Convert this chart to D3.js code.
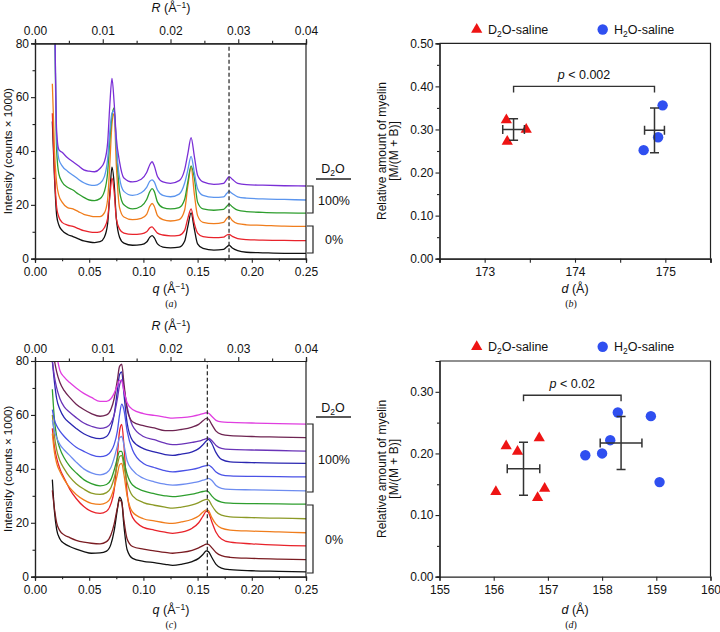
<!DOCTYPE html>
<html><head><meta charset="utf-8">
<script src="https://cdn.jsdelivr.net/npm/d3@7"></script>
<style>body{margin:0;background:#fff} svg{display:block;font-family:"Liberation Sans",Arial,sans-serif}</style>
</head><body><svg id="c" width="720" height="632"></svg>
<script>
// ---------- Panel (a) data ----------
const qA = [0.016,0.018,0.020,0.022,0.025,0.030,0.035,0.040,0.045,0.050,0.055,0.060,0.064,0.067,0.069,0.071,0.073,0.075,0.078,0.082,0.090,0.098,0.103,0.106,0.108,0.110,0.113,0.118,0.125,0.133,0.138,0.141,0.144,0.147,0.150,0.155,0.165,0.174,0.177,0.179,0.182,0.187,0.195,0.210,0.230,0.250];
const aBlack  = [51,30,16,12.5,10.5,9,8.2,7.4,6.6,6.2,6.0,6.3,8,13,24,34,28,15,8,5.8,5,5.2,6.2,8,8.6,7.8,5.5,4.3,4,4.3,6.5,12,17,11,5.5,3.8,3.2,3.5,4.4,5,4,3,2.4,2.2,2.0,2.0];
const aRed    = [54,32,19,15.5,13.5,12.5,12,11.2,10.4,10.0,9.8,10.0,11.5,15,23,30,25,15,11,9.5,9,9.2,10,11.5,11.8,11,9.5,8.8,8.5,8.7,10.5,15,18.5,13,9.5,8.2,7.8,8.0,8.8,9,8.3,7.5,7.1,6.9,6.8,6.7];
const aOrange = [65,40,28,23.5,21,19,18.5,17.5,16.5,16,15.6,15.6,17,22,35,50,54,35,19,15.5,14.5,15,16.5,19.5,20.5,19.5,16,14.5,14,14.5,18,27,34,24,16,13.5,13,13.5,15,15.6,14.2,13,12.6,12.4,12.1,12];
const aGreen  = [null,100,40,31.5,28.5,26.5,25.5,24,22.8,21.8,21.6,22.3,25,32,44,53,56,42,25,20,18.5,19.5,22,25,26,25,21,19,18.5,19,22,28.5,34.5,30,21,18.5,18,18.3,19.5,20.3,19.3,18,17.5,17.2,17,16.9];
const aBlue   = [null,100,45,37,34.5,32.5,31,29.5,28.2,27.4,27.2,28,30.5,37,47,54,55,42,30,25,23.5,24.5,26.5,28.8,29.3,28.5,25.5,23.5,23,24,28,33,38,32,26,23.5,22.8,23,24.3,25,24.2,23,22.5,22.2,22,21.8];
const aPurple = [null,100,47,40.5,39.5,37.5,36,34.5,33,32.5,32.3,33.5,36,43,57,67,58,45,36,30,28.5,29.5,32,35,36,34.5,30.5,28.5,28,29,33,39,45,38,31,28.5,27.6,28,29.5,30.5,29.5,28,27.5,27.3,27.1,27.0];
const aColors = ["#111111","#e8232b","#f07d1c","#2e9e2e","#5b95ee","#7a2fd6"];

// ---------- Panel (c) data ----------
const qC = [0.016,0.018,0.020,0.023,0.027,0.032,0.038,0.045,0.052,0.060,0.066,0.070,0.073,0.076,0.078,0.080,0.082,0.085,0.090,0.100,0.110,0.120,0.127,0.135,0.145,0.151,0.155,0.158,0.160,0.163,0.167,0.172,0.180,0.200,0.225,0.250];
const cBlack   = [36,24,17.5,14,12.3,11.2,10.2,9.3,8.7,8.8,9.5,12,17,25,29.5,28,19,10,6.8,5.7,5.2,4.6,4.2,4.6,5.6,6.8,8.3,9.6,9.3,7.2,4.6,3.2,2.6,2.2,2.0,1.8];
const cMaroon  = [32,25,20,17,15.5,14.5,13.5,12.8,12.4,12.2,13,15.5,19.5,25.5,28.5,27.5,21,14,11.2,10.2,9.6,9.0,8.7,9.0,9.8,10.7,11.5,12.1,12.0,10.8,9.0,7.8,7.2,6.8,6.5,6.3];
const cRed     = [55,48,44,40,36.5,32.5,29,26,24.2,23.5,24.3,27,32,45,54,56.5,49,31,22,18.3,17.3,16.5,16.1,16.5,18,20,22.5,24.2,23.8,20.5,16.5,14,12.8,12.2,11.7,11.4];
const cOrange  = [53,46,42,39,36,33,30.5,28.5,27.2,26.8,27.5,29.5,33,38,41.5,42,38,30,24,21.5,20.7,20,19.8,20.3,21.3,22.5,24,24.8,24.5,22,19.5,18,17.3,16.9,16.6,16.3];
const cOlive   = [60,52,47,43,40,37,34.5,32.5,31,30.5,31.2,33,36.5,41.5,44.5,45,41,35,30,27.5,26.5,25.8,25.4,25.8,26.6,27.5,28.3,28.7,28.5,26.5,24.2,22.8,22.2,21.9,21.7,21.5];
const cGreen   = [69.5,58,52,47.5,44,41,38.5,36,34.5,33.7,34.2,36,39.5,44,46.5,46.5,43,38,34,31.8,30.8,30,29.7,30,30.6,31.2,31.6,31.8,31.5,30,28.5,27.7,27.3,27.1,27,26.9];
const cLtBlue  = [58,54,51.5,49,47,45,42.5,40,38.5,37.8,38.5,40.5,44,48.5,51.5,52,49,43,39.5,36.5,35.2,34.3,34,34.2,34.8,35.3,35.8,36.2,36.5,35.8,33.8,32.8,32.4,32.2,32,31.8];
const cBlue    = [62,58,56,54,52,50,48,46.5,45.2,44.5,45,46.5,49,54,60,64,62,54,47,42,40.5,39.3,38.9,39.2,39.8,40.4,40.9,41.2,41.4,40.6,38.8,37.8,37.4,37.2,37.1,37];
const cNavy    = [80,72,66,62,59,57,55,53,51.8,51.2,52,55,60,69,75,76,68,57,50.5,47.5,46.3,45.3,45,45.5,46.3,47.5,49,50.3,50.9,49.5,46,43.5,42.6,42.3,42.1,42];
const cViolet  = [80,74,70,66,63,61,59,57,55.8,55,55.5,57,60,66,71,73,70,63,56,52,50.8,49.5,49,49.2,49.8,50.3,50.8,51.2,51.4,50.5,48.7,47.6,47.2,47,46.8,46.6];
const cPlum    = [null,80,76,72,69,66.5,64,62,60.5,59.5,60,62,66,73,78,78.8,72,62,57.5,56,55.2,54.2,54.2,54.6,55.5,56.5,57.8,58.7,58.5,56.5,54,52.8,52.3,52,51.8,51.6];
const cMagenta = [null,null,82,76.5,74,72,70,68,66.5,65,65,66,68,71,72.8,72.5,69,64.5,62,60.5,59.8,59.2,58.8,59,59.5,60,60.5,60.8,60.7,59.5,58,57.4,57.2,57,56.8,56.6];
const cColors = ["#111111","#7a1c22","#e8232b","#f07d1c","#8c9a26","#2e9e2e","#6d8cf0","#4a52e6","#2a26b0","#6a34b8","#6e2452","#e03ee0"];

const qTicks = [0,0.05,0.10,0.15,0.20,0.25];
const qMinor = [0.025,0.075,0.125,0.175,0.225];
const rTicks = [0,0.01,0.02,0.03,0.04];
const rMinor = [0.005,0.015,0.025,0.035];
const iTicks = [0,20,40,60,80];
const iMinor = [10,30,50,70];

// ---------- Panel (b) data ----------
const bD2Od = [173.24,173.25,173.46];
const bD2Ov = [0.322,0.272,0.300];
const bH2Od = [174.76,174.92,174.97];
const bH2Ov = [0.252,0.282,0.356];
const bMeanD = [173.32,174.88];
const bSdD = [0.12,0.11];
const bMeanV = [0.300,0.298];
const bSdV = [0.025,0.052];
const bXTicks = [173,174,175];
const bXMinor = [172.5,173.5,174.5,175.5];
const bYTicks = [0,0.1,0.2,0.3,0.4,0.5];
const bYMinor = [0.05,0.15,0.25,0.35,0.45];

// ---------- Panel (d) data ----------
const dD2Od = [156.04,156.23,156.44,156.84,156.81,156.94];
const dD2Ov = [0.138,0.212,0.203,0.225,0.128,0.143];
const dH2Od = [157.69,158.00,158.15,158.29,158.90,159.06];
const dH2Ov = [0.197,0.200,0.2215,0.2665,0.2605,0.1535];
const dMeanD = [156.55,158.35];
const dSdD = [0.30,0.385];
const dMeanV = [0.175,0.217];
const dSdV = [0.043,0.043];
const dXTicks = [155,156,157,158,159,160];
const dYTicks = [0,0.1,0.2,0.3];
const dYMinor = [0.05,0.15,0.25];

const svg = d3.select("#c");
const AX = "#222";

function styleAxis(g){
  g.selectAll("path.domain").attr("stroke",AX).attr("stroke-width",1.2);
  g.selectAll(".tick line").attr("stroke",AX).attr("stroke-width",1.1);
  g.selectAll(".tick text").attr("fill","#111").style("font-size","12px").style("font-family","'Liberation Sans',Arial,sans-serif");
}

function unitLabel(g, x, y, sym){
  const t = g.append("text").attr("x",x).attr("y",y).attr("text-anchor","middle").style("font-size","12.5px").attr("fill","#111");
  t.append("tspan").style("font-style","italic").text(sym);
  t.append("tspan").text(" (Å");
  t.append("tspan").attr("dy",-4.5).style("font-size","8.5px").text("−1");
  t.append("tspan").attr("dy",4.5).text(")");
}

function tracePanel(id, y0, y1, series, colors, dashQ, qLab, lab, yTop, ann){
  const g = svg.append("g");
  const x = d3.scaleLinear().domain([0,0.25]).range([35,306]);
  const xR = d3.scaleLinear().domain([0,0.04]).range([35,306]);
  const y = d3.scaleLinear().domain([0,80]).range([y0,y1]);
  g.append("clipPath").attr("id",id).append("rect").attr("x",35).attr("y",y1).attr("width",271).attr("height",y0-y1);
  const cg = g.append("g").attr("clip-path",`url(#${id})`);
  series.forEach((s,i)=>{
    const pts = s.q.map((q,k)=>[q,s.v[k]]);
    const line = d3.line().defined(d=>d[1]!=null).x(d=>x(d[0])).y(d=>y(d[1])).curve(d3.curveMonotoneX);
    cg.append("path").attr("d",line(pts)).attr("fill","none").attr("stroke",colors[i]).attr("stroke-width",1.3);
  });
  g.append("line").attr("x1",x(dashQ)).attr("x2",x(dashQ)).attr("y1",y0).attr("y2",y1)
    .attr("stroke","#333").attr("stroke-width",1.3).attr("stroke-dasharray","4,2.5");
  const bx = g.append("g").attr("transform",`translate(0,${y0})`).call(d3.axisBottom(x).tickValues(qTicks).tickFormat(d3.format(".2f")).tickSize(4).tickPadding(5));
  styleAxis(bx);
  styleAxis(g.append("g").attr("transform",`translate(0,${y0})`).call(d3.axisBottom(x).tickValues(qMinor).tickFormat("").tickSize(2.5)));
  const tx = g.append("g").attr("transform",`translate(0,${y1})`).call(d3.axisTop(xR).tickValues(rTicks).tickFormat(d3.format(".2f")).tickSize(4).tickPadding(4));
  styleAxis(tx);
  styleAxis(g.append("g").attr("transform",`translate(0,${y1})`).call(d3.axisTop(xR).tickValues(rMinor).tickFormat("").tickSize(2.5)));
  const ly = g.append("g").attr("transform","translate(35,0)").call(d3.axisLeft(y).tickValues(iTicks).tickFormat(d3.format("d")).tickSize(4).tickPadding(2));
  styleAxis(ly);
  styleAxis(g.append("g").attr("transform","translate(35,0)").call(d3.axisLeft(y).tickValues(iMinor).tickFormat("").tickSize(2.5)));
  g.append("line").attr("x1",306).attr("x2",306).attr("y1",y1).attr("y2",y0).attr("stroke",AX).attr("stroke-width",1.2);
  unitLabel(g, 171, qLab, "q");
  unitLabel(g, 171, yTop, "R");
  g.append("text").attr("transform",`translate(12,${(y0+y1)/2}) rotate(-90)`).attr("text-anchor","middle")
    .style("font-size","11.5px").attr("fill","#111").text("Intensity (counts × 1000)");
  const pl = g.append("text").attr("x",171).attr("y",lab).attr("text-anchor","middle")
    .style("font-family","'Liberation Serif',serif").style("font-size","10px").attr("fill","#111");
  pl.append("tspan").text("(");
  pl.append("tspan").style("font-style","italic").text(id==="clipA"?"a":"c");
  pl.append("tspan").text(")");
  const dt = g.append("text").attr("x",333).attr("y",ann.d2o).attr("text-anchor","middle").style("font-size","12.5px").attr("fill","#111");
  dt.append("tspan").text("D");
  dt.append("tspan").attr("dy",3).style("font-size","8.5px").text("2");
  dt.append("tspan").attr("dy",-3).text("O");
  g.append("line").attr("x1",316).attr("x2",351).attr("y1",ann.line).attr("y2",ann.line).attr("stroke",AX).attr("stroke-width",1.3);
  [[ann.b1a,ann.b1b],[ann.b2a,ann.b2b]].forEach(b=>{
    g.append("path").attr("d",`M307,${b[0]}H313V${b[1]}H307`).attr("fill","none").attr("stroke",AX).attr("stroke-width",1.2);
  });
  g.append("text").attr("x",334).attr("y",ann.t1).attr("text-anchor","middle").style("font-size","12.5px").attr("fill","#111").text("100%");
  g.append("text").attr("x",334).attr("y",ann.t2).attr("text-anchor","middle").style("font-size","12.5px").attr("fill","#111").text("0%");
}

tracePanel("clipA", 258.7, 43.3,
  [aBlack,aRed,aOrange,aGreen,aBlue,aPurple].map(v=>({q:qA,v})), aColors, 0.179, 293, 307, 12,
  {d2o:173, line:179, b1a:186, b1b:213, b2a:226, b2b:253, t1:205, t2:244});
tracePanel("clipC", 576.7, 361,
  [cBlack,cMaroon,cRed,cOrange,cOlive,cGreen,cLtBlue,cBlue,cNavy,cViolet,cPlum,cMagenta].map(v=>({q:qC,v})), cColors, 0.159, 614, 628, 330,
  {d2o:412, line:417, b1a:424, b1b:492, b2a:505, b2b:573, t1:464, t2:544});

function scatterPanel(o){
  const g = svg.append("g");
  const x = d3.scaleLinear().domain(o.xd).range([439.5,710.5]);
  const y = d3.scaleLinear().domain(o.yd).range([o.y0,o.y1]);
  const bx = g.append("g").attr("transform",`translate(0,${o.y0})`).call(d3.axisBottom(x).tickValues(o.xt).tickFormat(d3.format("d")).tickSize(4).tickPadding(5));
  styleAxis(bx);
  if(o.xm){ styleAxis(g.append("g").attr("transform",`translate(0,${o.y0})`).call(d3.axisBottom(x).tickValues(o.xm).tickFormat("").tickSize(4))); }
  const ly = g.append("g").attr("transform","translate(439.5,0)").call(d3.axisLeft(y).tickValues(o.yt).tickFormat(d3.format(".2f")).tickSize(4).tickPadding(2));
  styleAxis(ly);
  styleAxis(g.append("g").attr("transform","translate(439.5,0)").call(d3.axisLeft(y).tickValues(o.ym).tickFormat("").tickSize(2.5)));
  g.append("path").attr("d",`M439.5,${o.y1}H710.5V${o.y0}`).attr("fill","none").attr("stroke",AX).attr("stroke-width",1.2);
  const tri = d3.symbol(d3.symbolTriangle).size(55)();
  const cir = d3.symbol(d3.symbolCircle).size(85)();
  o.d2od.forEach((d,i)=>g.append("path").attr("d",tri).attr("transform",`translate(${x(d)},${y(o.d2ov[i])})`).attr("fill","#ee1414"));
  o.h2od.forEach((d,i)=>g.append("path").attr("d",cir).attr("transform",`translate(${x(d)},${y(o.h2ov[i])})`).attr("fill","#2f4ff0"));
  o.md.forEach((m,i)=>{
    const cx=x(m), cy=y(o.mv[i]);
    const y1=y(o.mv[i]+o.sv[i]), y2=y(o.mv[i]-o.sv[i]);
    const x1=x(m-o.sd[i]), x2=x(m+o.sd[i]);
    const c=4.5;
    g.append("path").attr("d",`M${cx},${y1}V${y2}M${cx-c},${y1}H${cx+c}M${cx-c},${y2}H${cx+c}M${x1},${cy}H${x2}M${x1},${cy-c}V${cy+c}M${x2},${cy-c}V${cy+c}`)
      .attr("fill","none").attr("stroke","#333").attr("stroke-width",1.5);
  });
  const by=y(o.bv);
  g.append("path").attr("d",`M${x(o.md[0])},${by+6}V${by}H${x(o.md[1])}V${by+6}`).attr("fill","none").attr("stroke","#333").attr("stroke-width",1.4);
  const pt = g.append("text").attr("x",(x(o.md[0])+x(o.md[1]))/2).attr("y",by-7).attr("text-anchor","middle").style("font-size","12.5px").attr("fill","#111");
  pt.append("tspan").style("font-style","italic").text("p");
  pt.append("tspan").text(" < "+o.ptxt);
  g.append("path").attr("d",tri).attr("transform",`translate(476.7,${o.leg})`).attr("fill","#ee1414");
  g.append("path").attr("d",cir).attr("transform",`translate(602.7,${o.leg})`).attr("fill","#2f4ff0");
  [["D","O-saline",488],["H","O-saline",614]].forEach(l=>{
    const t=g.append("text").attr("x",l[2]).attr("y",o.leg+4.5).style("font-size","12.5px").attr("fill","#111");
    t.append("tspan").text(l[0]);
    t.append("tspan").attr("dy",3).style("font-size","8.5px").text("2");
    t.append("tspan").attr("dy",-3).text(l[1]);
  });
  const cy=(o.y0+o.y1)/2;
  g.append("text").attr("transform",`translate(386,${cy}) rotate(-90)`).attr("text-anchor","middle").style("font-size","12px").attr("fill","#111").text("Relative amount of myelin");
  g.append("text").attr("transform",`translate(398,${cy}) rotate(-90)`).attr("text-anchor","middle").style("font-size","12px").attr("fill","#111").text("[M/(M + B)]");
  const xt=g.append("text").attr("x",575).attr("y",o.xl).attr("text-anchor","middle").style("font-size","12.5px").attr("fill","#111");
  xt.append("tspan").style("font-style","italic").text("d");
  xt.append("tspan").text(" (Å)");
  const pl=g.append("text").attr("x",571).attr("y",o.lab).attr("text-anchor","middle").style("font-family","'Liberation Serif',serif").style("font-size","10px").attr("fill","#111");
  pl.append("tspan").text("(");
  pl.append("tspan").style("font-style","italic").text(o.name);
  pl.append("tspan").text(")");
}

scatterPanel({xd:[172.5,175.5], yd:[0,0.5], y0:258.7, y1:43.3, xt:bXTicks, xm:bXMinor, yt:bYTicks, ym:bYMinor,
  d2od:bD2Od, d2ov:bD2Ov, h2od:bH2Od, h2ov:bH2Ov, md:bMeanD, sd:bSdD, mv:bMeanV, sv:bSdV, bv:0.40, ptxt:"0.002",
  leg:29.5, xl:293, lab:307, name:"b"});
scatterPanel({xd:[155,160], yd:[0,0.35], y0:576.7, y1:361, xt:dXTicks, xm:null, yt:dYTicks, ym:dYMinor,
  d2od:dD2Od, d2ov:dD2Ov, h2od:dH2Od, h2ov:dH2Ov, md:dMeanD, sd:dSdD, mv:dMeanV, sv:dSdV, bv:0.2945, ptxt:"0.02",
  leg:346.7, xl:614, lab:628, name:"d"});
</script></body></html>
